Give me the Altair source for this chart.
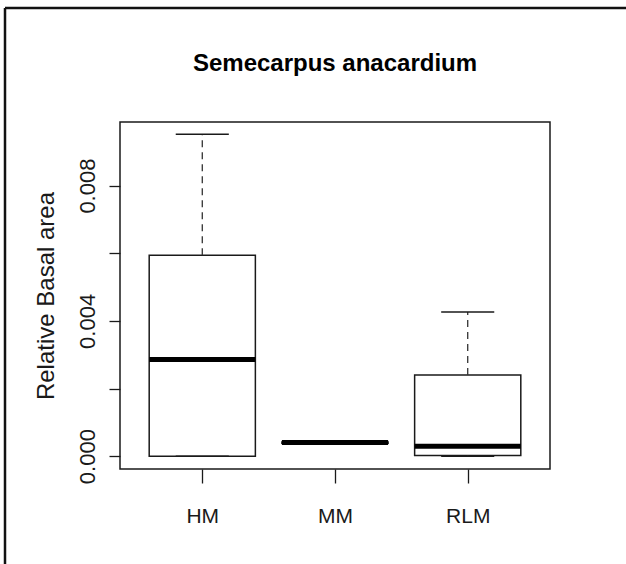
import altair as alt
import pandas as pd

# ---- data ----
groups = ["HM", "MM", "RLM"]
positions = [1, 2, 3]
mins = [0.0, 0.00038, 0.0]
q1s = [0.0, 0.00038, 0.00002]
medians = [0.00286, 0.0004, 0.00029]
q3s = [0.00594, 0.00042, 0.0024]
maxs = [0.00952, 0.00042, 0.00426]

y_ticks = [0.0, 0.002, 0.004, 0.006, 0.008]
y_labels = ["0.000", "", "0.004", "", "0.008"]

title_text = "Semecarpus anacardium"
y_title = "Relative Basal area"

df = pd.DataFrame({
    "group": groups, "pos": positions, "min": mins, "q1": q1s,
    "median": medians, "q3": q3s, "max": maxs,
})

# label expressions built from the label arrays
x_expr = " : ".join(
    [f"datum.value == {p} ? '{g}'" for p, g in zip(positions[:-1], groups[:-1])]
    + [f"'{groups[-1]}'"]
)
y_expr = " : ".join(
    [f"abs(datum.value - {v}) < 1e-9 ? '{l}'" for v, l in zip(y_ticks, y_labels)]
    + ["''"]
)

FONT = "Liberation Sans, Arial, Helvetica, sans-serif"
INK = "#1a1a1a"

x_scale = alt.Scale(domain=[0.38, 3.62], nice=False, zero=False)
y_scale = alt.Scale(domain=[-0.00038, 0.00988], nice=False, zero=False)

x_axis = alt.Axis(
    values=positions, labelExpr=x_expr, title=None, grid=False, domain=False,
    tickSize=14, tickColor=INK, tickWidth=1.3, labelFont=FONT, labelFontSize=21,
    labelColor=INK, labelBaseline="alphabetic", labelPadding=39, labelFlush=False,
    labelOverlap=False,
)
y_axis = alt.Axis(
    values=y_ticks, labelExpr=y_expr, title=y_title, grid=False, domain=False,
    tickSize=11, tickColor=INK, tickWidth=1.3, labelFont=FONT, labelFontSize=22,
    labelColor=INK, labelAngle=270, labelAlign="center", labelBaseline="alphabetic",
    labelPadding=15, labelFlush=False, labelOverlap=False,
    titleFont=FONT, titleFontSize=24, titleFontWeight="normal", titleColor=INK,
    titleAngle=270, titleAlign="center", titleBaseline="alphabetic",
    titleX=-67, titleY=173.5,
)

base = alt.Chart(df).transform_calculate(
    xl="datum.pos - 0.4", xr="datum.pos + 0.4",
    cl="datum.pos - 0.2", cr="datum.pos + 0.2",
)

boxes = base.mark_rect(fill="white", stroke=INK, strokeWidth=1.5).encode(
    x=alt.X("xl:Q", scale=x_scale, axis=x_axis),
    x2="xr:Q",
    y=alt.Y("q1:Q", scale=y_scale, axis=y_axis),
    y2="q3:Q",
)
upper_whisker = base.mark_rule(color="#333", strokeWidth=1.3, strokeDash=[7, 5]).encode(
    x=alt.X("pos:Q", scale=x_scale), y=alt.Y("q3:Q", scale=y_scale), y2="max:Q"
)
lower_whisker = base.mark_rule(color="#333", strokeWidth=1.3, strokeDash=[7, 5]).encode(
    x=alt.X("pos:Q", scale=x_scale), y=alt.Y("min:Q", scale=y_scale), y2="q1:Q"
)
upper_cap = base.mark_rule(color=INK, strokeWidth=1.5).encode(
    x=alt.X("cl:Q", scale=x_scale), x2="cr:Q", y=alt.Y("max:Q", scale=y_scale)
)
lower_cap = base.mark_rule(color=INK, strokeWidth=1.5).encode(
    x=alt.X("cl:Q", scale=x_scale), x2="cr:Q", y=alt.Y("min:Q", scale=y_scale)
)
median_line = base.mark_rule(color="black", strokeWidth=5, strokeCap="butt").encode(
    x=alt.X("xl:Q", scale=x_scale), x2="xr:Q", y=alt.Y("median:Q", scale=y_scale)
)

# main title, centred over the plot area
title_mark = alt.Chart(alt.Data(values=[{"t": title_text}])).mark_text(
    font=FONT, fontSize=24, fontWeight="bold", color="black",
    align="center", baseline="alphabetic",
).encode(text="t:N", x=alt.value(215), y=alt.value(-51))

frame_data = alt.Data(values=[{"k": 1}])
frame_top = alt.Chart(frame_data).mark_rule(color="#111", strokeWidth=2.5).encode(
    x=alt.value(-115), x2=alt.value(506), y=alt.value(-114)
)
frame_left = alt.Chart(frame_data).mark_rule(color="#111", strokeWidth=2.5).encode(
    x=alt.value(-115), y=alt.value(-114), y2=alt.value(442)
)

chart = alt.layer(
    boxes, upper_whisker, lower_whisker, upper_cap, lower_cap, median_line,
    title_mark, frame_top, frame_left,
).properties(
    width=430, height=347,
    autosize=alt.AutoSizeParams(type="none"),
    padding={"left": 120, "top": 122, "right": 76, "bottom": 95},
    background="white",
).configure_view(stroke=INK, strokeWidth=1.5)

chart.save("out.html", embed_options={"renderer": "svg", "actions": False})
